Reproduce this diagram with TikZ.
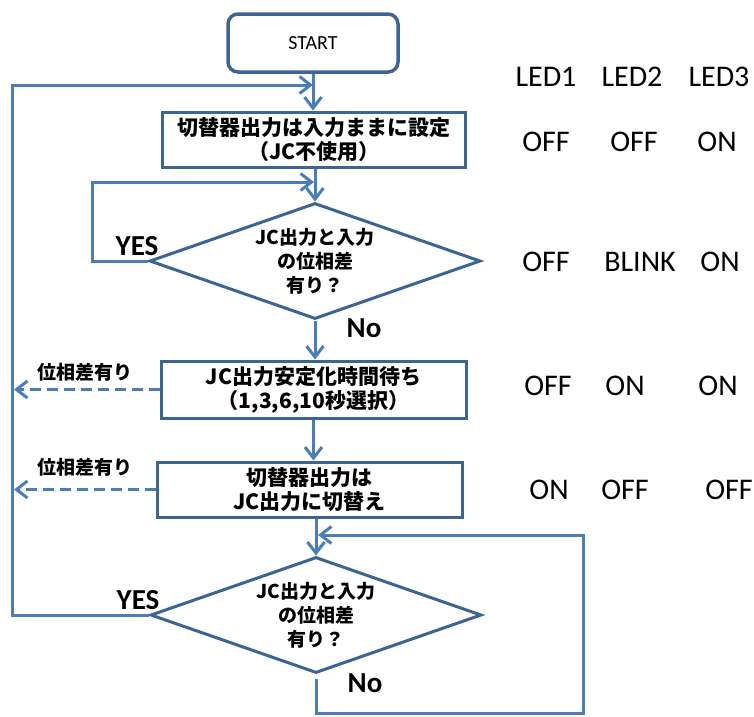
\documentclass[tikz,border=0pt]{standalone}
\usepackage{fontspec}
\setmainfont{Carlito}
\newfontfamily\jp{Noto Sans CJK JP}
\usetikzlibrary{shapes.geometric,arrows.meta}
\definecolor{lineblue}{HTML}{4A7EBB}
\definecolor{boxblue}{HTML}{3C6596}
\begin{document}
\begin{tikzpicture}[x=1pt,y=-1pt,
  box/.style={draw=boxblue,line width=3pt,fill=white,minimum width=305pt,minimum height=56pt,inner sep=0pt,align=center,font=\jp\bfseries\fontsize{21}{24}\selectfont},
  startbox/.style={draw=boxblue,line width=3.5pt,rounded corners=10pt,fill=white,minimum width=170pt,minimum height=58pt,font=\fontsize{20}{24}\selectfont},
  dia/.style={diamond,aspect=2.85,draw=boxblue,line width=3pt,fill=white,minimum width=331pt,minimum height=116pt,inner sep=0pt,align=center,font=\jp\bfseries\fontsize{19}{24}\selectfont},
  conn/.style={draw=lineblue,line width=3pt},
  arr/.style={-{Straight Barb[length=11pt,width=17pt]}},
  dashline/.style={dash pattern=on 11pt off 6pt},
  lab/.style={font=\jp\bfseries\fontsize{19}{22}\selectfont,inner sep=0pt},
  yn/.style={font=\bfseries\fontsize{29}{30}\selectfont,inner sep=0pt},
  led/.style={font=\fontsize{30}{32}\selectfont,inner sep=0pt}
]
\useasboundingbox[fill=white] (0,0) rectangle (754,716);

% nodes
\node[startbox] (start) at (313,43) {START};
\node[box,minimum width=303pt,minimum height=55pt] (b1) at (314,139.5) {切替器出力は入力ままに設定\\（JC不使用）};
\node[dia] (d1) at (315,261) {JC出力と入力\\の位相差\\有り？};
\node[box,minimum height=57pt] (b2) at (313.5,389.5) {JC出力安定化時間待ち\\（1,3,6,10秒選択）};
\node[box,minimum height=55pt] (b3) at (309.5,489.5) {切替器出力は\\JC出力に切替え};
\node[dia] (d2) at (316,615) {JC出力と入力\\の位相差\\有り？};

% helper coordinates
\coordinate (LT) at (12,85);
\coordinate (j1) at (313,85);
\coordinate (IT) at (92,182);
\coordinate (j2) at (314,182);
\coordinate (LX) at (14,0);
\coordinate (RB) at (316,713);
\coordinate (RT) at (583,535);
\coordinate (j3) at (318,535);

% main flow
\draw[conn,arr] (start.south) -- (start.south |- b1.north);
\draw[conn,arr] (b1.south -| d1.north) -- (d1.north);
\draw[conn,arr] (d1.south) -- (d1.south |- b2.north);
\draw[conn,arr] (b2.south) -- (b2.south |- b3.north);
\draw[conn,arr] (b3.south -| d2.north) -- (d2.north);

% loops
\draw[conn,arr] (d2.west) -| (LT) -- (j1);
\draw[conn,arr] (d1.west) -| (IT) -- (j2);
\draw[conn,arr,shorten <=4pt] (d2.south) -- (RB) -| (RT) -- (j3);

% dashed exits
\draw[conn,dashline,arr] (b2.west) -- (b2.west -| LX);
\draw[conn,dashline,arr] (b3.west) -- (b3.west -| LX);

% labels
\node[lab] (p1) at (85,372) {位相差有り};
\node[lab] (p2) at (85,467) {位相差有り};
\node[yn] (yes1) at (137,246) {YES};
\node[yn] (no1) at (364,328) {No};
\node[yn] (yes2) at (138,600) {YES};
\node[yn] (no2) at (365,683) {No};

% LED table
\node[led] (h1) at (546,77) {LED1};
\node[led] (h2) at (632,77) {LED2};
\node[led] (h3) at (719,77) {LED3};
\node[led] (r1a) at (546,142) {OFF};
\node[led] (r1b) at (634,142) {OFF};
\node[led] (r1c) at (717,142) {ON};
\node[led] (r2a) at (546,262) {OFF};
\node[led] (r2b) at (640,262) {BLINK};
\node[led] (r2c) at (720,262) {ON};
\node[led] (r3a) at (548,386) {OFF};
\node[led] (r3b) at (625,386) {ON};
\node[led] (r3c) at (718,386) {ON};
\node[led] (r4a) at (549,490) {ON};
\node[led] (r4b) at (625,490) {OFF};
\node[led] (r4c) at (729,490) {OFF};
\end{tikzpicture}
\end{document}
